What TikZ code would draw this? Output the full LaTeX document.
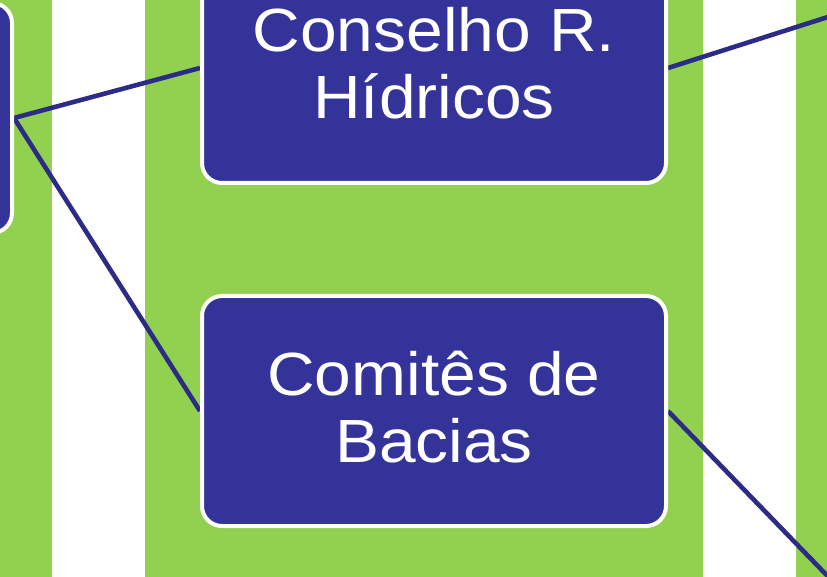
\documentclass[tikz,border=0pt]{standalone}
\usepackage{fontspec}
\setmainfont{Liberation Sans}
\newfontfamily\boxfont{Liberation Sans}[FakeStretch=1.08]
\definecolor{stripegreen}{HTML}{92D050}
\definecolor{boxblue}{HTML}{333399}
\definecolor{lineblue}{HTML}{2C2B86}
\pgfdeclarelayer{stripes}
\pgfdeclarelayer{lines}
\pgfsetlayers{stripes,lines,main}
\tikzset{
  box/.style={draw=white, line width=4pt, fill=boxblue, rounded corners=20pt,
    minimum width=464pt, minimum height=230pt, inner sep=0pt,
    text=white, align=center, font=\boxfont\fontsize{61}{67}\selectfont,
    text height=130pt, text depth=28pt},
  conn/.style={draw=lineblue, line width=4.6pt},
  stripe/.style={fill=stripegreen, draw=none}
}
\begin{document}
\begin{tikzpicture}[x=1pt, y=-1pt]
\useasboundingbox (0,0) rectangle (827,577);
\begin{pgfonlayer}{stripes}
  \fill[white] (0,0) rectangle (827,577);
  \path[stripe] (0,0) rectangle (52,577);
  \path[stripe] (145,0) rectangle (703,577);
  \path[stripe] (796,0) rectangle (827,577);
\end{pgfonlayer}
\node[box] (left) at (-220,118) {};
\node[box] (cons) at (434,68) {Conselho R.\\Hídricos};
\node[box] (com) at (434,411) {Comitês de\\Bacias};
\coordinate (outA) at (900,-6);
\coordinate (outB) at (900,651);
\begin{pgfonlayer}{lines}
  \draw[conn] (left.east) -- (cons.west);
  \draw[conn] (left.east) -- (com.west);
  \draw[conn] (cons.east) -- (outA);
  \draw[conn] (com.east) -- (outB);
\end{pgfonlayer}
\end{tikzpicture}
\end{document}
